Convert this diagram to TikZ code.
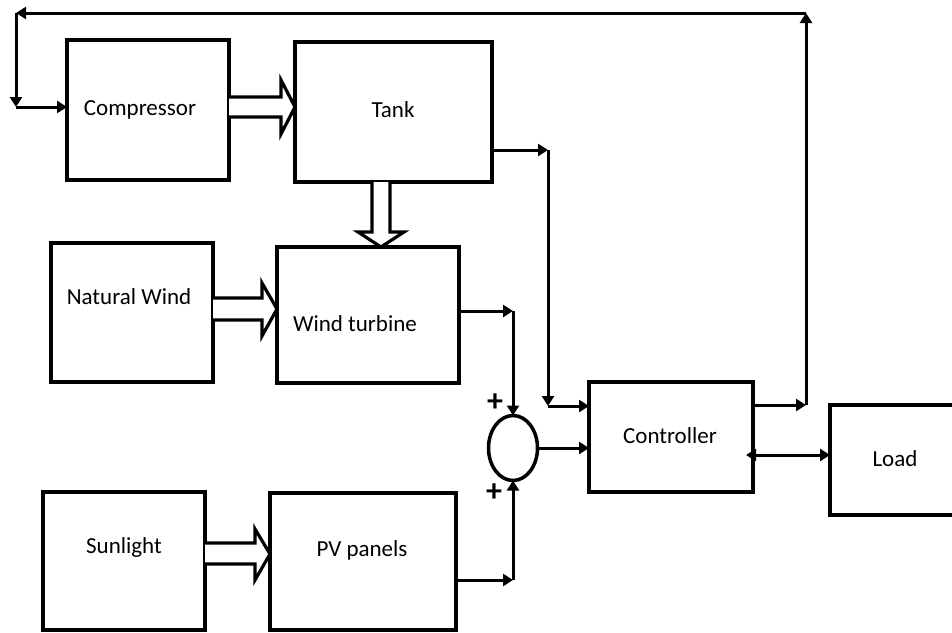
\documentclass[tikz,border=0pt]{standalone}
\usepackage{fontspec}
\setmainfont{Carlito}
\usetikzlibrary{arrows.meta,shapes.geometric,calc}
\begin{document}
\begin{tikzpicture}[x=1pt,y=-1pt,
  box/.style={draw,line width=3.5pt,rectangle,inner sep=0pt,outer sep=0pt},
  lbl/.style={font=\fontsize{23}{27}\selectfont,anchor=base,inner sep=0pt},
  plus/.style={font=\fontsize{32}{34}\selectfont\bfseries,inner sep=0pt},
  conn/.style={line width=3pt,-{Triangle[length=10pt,width=12pt]}},
  dconn/.style={line width=3pt,{Triangle[length=10pt,width=12pt]}-{Triangle[length=10pt,width=12pt]}},
  hollow/.style={line width=3.2pt,fill=white,line join=miter}]
\useasboundingbox (0,0) rectangle (952,632);

% boxes
\node[box,minimum width=162pt,minimum height=140pt] (comp) at (148,110) {};
\node[box,minimum width=197pt,minimum height=140pt] (tank) at (393.5,112) {};
\node[box,minimum width=162pt,minimum height=139pt] (nw) at (132,312.5) {};
\node[box,minimum width=182pt,minimum height=136pt] (wt) at (368,315) {};
\node[box,minimum width=162pt,minimum height=138pt] (sun) at (124,561) {};
\node[box,minimum width=186pt,minimum height=137pt] (pv) at (363,561.5) {};
\node[box,minimum width=164pt,minimum height=110pt] (ctrl) at (671,437) {};
\node[box,minimum width=150pt,minimum height=110pt] (load) at (905,460) {};
\node[draw,ellipse,line width=3.5pt,minimum width=49pt,minimum height=65pt,inner sep=0pt,outer sep=0pt] (sum) at (513,448) {};

% labels
\node[lbl] (compT) at (140,115) {Compressor};
\node[lbl] (tankT) at (393,117) {Tank};
\node[lbl] (nwT) at (129,304) {Natural Wind};
\node[lbl] (wtT) at (355,331) {Wind turbine};
\node[lbl] (sunT) at (124,553) {Sunlight};
\node[lbl] (pvT) at (362,556) {PV panels};
\node[lbl] (ctrlT) at (670,443) {Controller};
\node[lbl] (loadT) at (895,466) {Load};
\node[plus] (p1) at (495,403) {+};
\node[plus] (p2) at (494,493) {+};

% hollow arrows
\draw[hollow] (comp.east |- 0,97) -- ($(tank.west |- 0,97)+(-14,0)$) -- ($(tank.west |- 0,80)+(-14,0)$)
  -- (tank.west |- 0,107) -- ($(tank.west |- 0,134)+(-14,0)$) -- ($(tank.west |- 0,117)+(-14,0)$) -- (comp.east |- 0,117);
\draw[hollow] (tank.south -| 372,0) -- ($(wt.north -| 372,0)+(0,-15)$) -- ($(wt.north -| 358,0)+(0,-15)$)
  -- (wt.north -| 381,0) -- ($(wt.north -| 404,0)+(0,-15)$) -- ($(wt.north -| 390,0)+(0,-15)$) -- (tank.south -| 390,0);
\draw[hollow] (nw.east |- 0,298) -- ($(wt.west |- 0,298)+(-15,0)$) -- ($(wt.west |- 0,283)+(-15,0)$)
  -- (wt.west |- 0,309) -- ($(wt.west |- 0,336)+(-15,0)$) -- ($(wt.west |- 0,320)+(-15,0)$) -- (nw.east |- 0,320);
\draw[hollow] (sun.east |- 0,543) -- ($(pv.west |- 0,543)+(-15,0)$) -- ($(pv.west |- 0,529)+(-15,0)$)
  -- (pv.west |- 0,554) -- ($(pv.west |- 0,580)+(-15,0)$) -- ($(pv.west |- 0,564)+(-15,0)$) -- (sun.east |- 0,564);

% corner points
\coordinate (c1) at (513,311);
\coordinate (c2) at (513,580);
\coordinate (c3) at (548,150);
\coordinate (c4) at (548,406);
\coordinate (c5) at (806,405);
\coordinate (c6) at (806,13);
\coordinate (c7) at (16,13);
\coordinate (c8) at (16,107);

% connectors
\draw[conn] (wt.east |- c1) -- (c1);
\draw[conn] (c1) -- (sum.north);
\draw[conn] (pv.east |- c2) -- (c2);
\draw[conn] (c2) -- (sum.south);
\draw[conn] (sum.east) -- (ctrl.west |- sum.east);
\draw[conn] (tank.east |- c3) -- (c3);
\draw[conn] (c3) -- (c4);
\draw[conn] (c4) -- (ctrl.west |- c4);
\draw[conn] (ctrl.east |- c5) -- (c5);
\draw[conn] (c5) -- (c6);
\draw[conn] (c6) -- (c7);
\draw[conn] (c7) -- (c8);
\draw[conn] (c8) -- (comp.west |- c8);
\draw[dconn] ($(ctrl.east |- 0,455)+(-7,0)$) -- (load.west |- 0,455);
\end{tikzpicture}
\end{document}
